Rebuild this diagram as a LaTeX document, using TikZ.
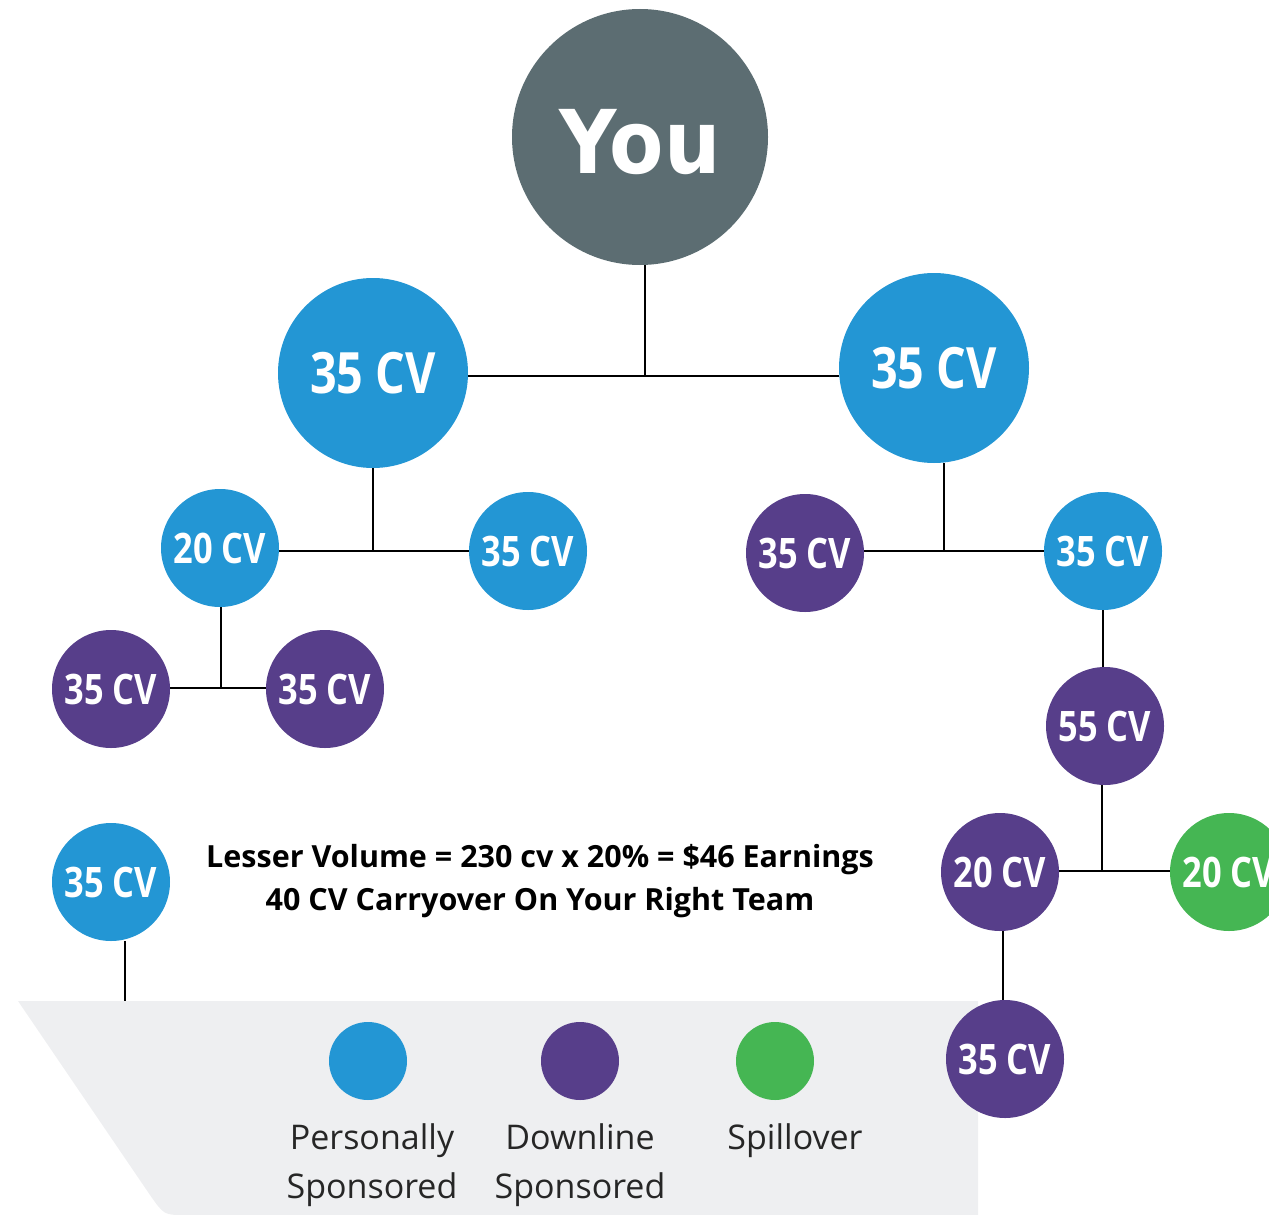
\documentclass[tikz,border=0pt]{standalone}
\usepackage{fontspec}
\setmainfont{Open Sans}
\newfontfamily\cvfont{Open Sans}[FakeStretch=0.82]
\newfontfamily\youfont{DejaVu Sans}[FakeStretch=0.9]
\definecolor{cblue}{HTML}{2396D4}
\definecolor{cpurple}{HTML}{573E8A}
\definecolor{cgreen}{HTML}{45B653}
\definecolor{cgray}{HTML}{5C6D72}
\definecolor{cpanel}{HTML}{EEEFF1}
\tikzset{
  big/.style={circle,minimum size=190pt,inner sep=0pt,text=white,font=\cvfont\bfseries\fontsize{57}{60}\selectfont},
  small/.style={circle,minimum size=118pt,inner sep=0pt,text=white,font=\cvfont\bfseries\fontsize{42}{44}\selectfont},
  leg/.style={circle,minimum size=78pt,inner sep=0pt},
  legtext/.style={align=center,font=\fontsize{34}{49}\selectfont,text=black!85},
  link/.style={draw=black,line width=2pt},
}
\begin{document}
\begin{tikzpicture}[x=1pt,y=-1pt]
\useasboundingbox (0,0) rectangle (1269,1215);
\clip (0,0) rectangle (1269,1215);
% panel
\fill[cpanel] (18,1001) -- (150,1195) .. controls (164,1215) .. (185,1215) -- (978,1215) -- (978,1001) -- cycle;
% nodes
\node[circle,minimum size=256pt,inner sep=0pt,fill=cgray] (you) at (640,137) {};
\node[text=white,font=\youfont\bfseries\fontsize{88}{90}\selectfont] (youtext) at (640,142) {You};
\node[big,fill=cblue] (L) at (373,373) {35 CV};
\node[big,fill=cblue] (R) at (934,368) {35 CV};
\node[small,fill=cblue] (LL) at (220,548) {20 CV};
\node[small,fill=cblue] (LR) at (528,551) {35 CV};
\node[small,fill=cpurple] (RL) at (805,553) {35 CV};
\node[small,fill=cblue] (RR) at (1103,551) {35 CV};
\node[small,fill=cpurple] (LLL) at (111,689) {35 CV};
\node[small,fill=cpurple] (LLR) at (325,689) {35 CV};
\node[small,fill=cpurple] (R55) at (1105,726) {55 CV};
\node[small,fill=cpurple] (R20) at (1000,872) {20 CV};
\node[small,fill=cgreen] (G20) at (1229,872) {20 CV};
\node[small,fill=cpurple] (R35) at (1005,1059) {35 CV};
\node[small,fill=cblue] (B35) at (111,882) {35 CV};
% connector junctions
\coordinate (j1) at (645,376);
\coordinate (j2) at (373,551);
\coordinate (j3) at (944,551);
\coordinate (j4) at (221,688);
\coordinate (j5) at (1102,871);
\coordinate (bend) at (125,1001);
% connectors
\draw[link] (you.south -| j1) -- (j1);
\draw[link] (j1 -| L.east) -- (j1 -| R.west);
\draw[link] (L.south) -- (j2);
\draw[link] (j2 -| LL.east) -- (j2 -| LR.west);
\draw[link] (R.south -| j3) -- (j3);
\draw[link] (j3 -| RL.east) -- (j3 -| RR.west);
\draw[link] (LL.south -| j4) -- (j4);
\draw[link] (j4 -| LLL.east) -- (j4 -| LLR.west);
\draw[link] (RR.south) -- (R55.north -| RR.south);
\draw[link] (R55.south -| j5) -- (j5);
\draw[link] (j5 -| R20.east) -- (j5 -| G20.west);
\draw[link] (R20.south -| 1003,0) -- (R35.north -| 1003,0);
\draw[link] (B35.south -| bend) -- (bend);
% caption
\node[font=\bfseries\fontsize{30.5}{43}\selectfont,align=center] (cap) at (540,881) {Lesser Volume = 230 cv x 20\% = \$46 Earnings\\40 CV Carryover On Your Right Team};
% legend
\node[leg,fill=cblue] (k1) at (368,1061) {};
\node[leg,fill=cpurple] (k2) at (580,1061) {};
\node[leg,fill=cgreen] (k3) at (775,1061) {};
\node[legtext,anchor=north] (t1) at (372,1120) {Personally\\Sponsored};
\node[legtext,anchor=north] (t2) at (580,1120) {Downline\\Sponsored};
\node[legtext,anchor=north] (t3) at (795,1120) {Spillover};
\end{tikzpicture}
\end{document}
